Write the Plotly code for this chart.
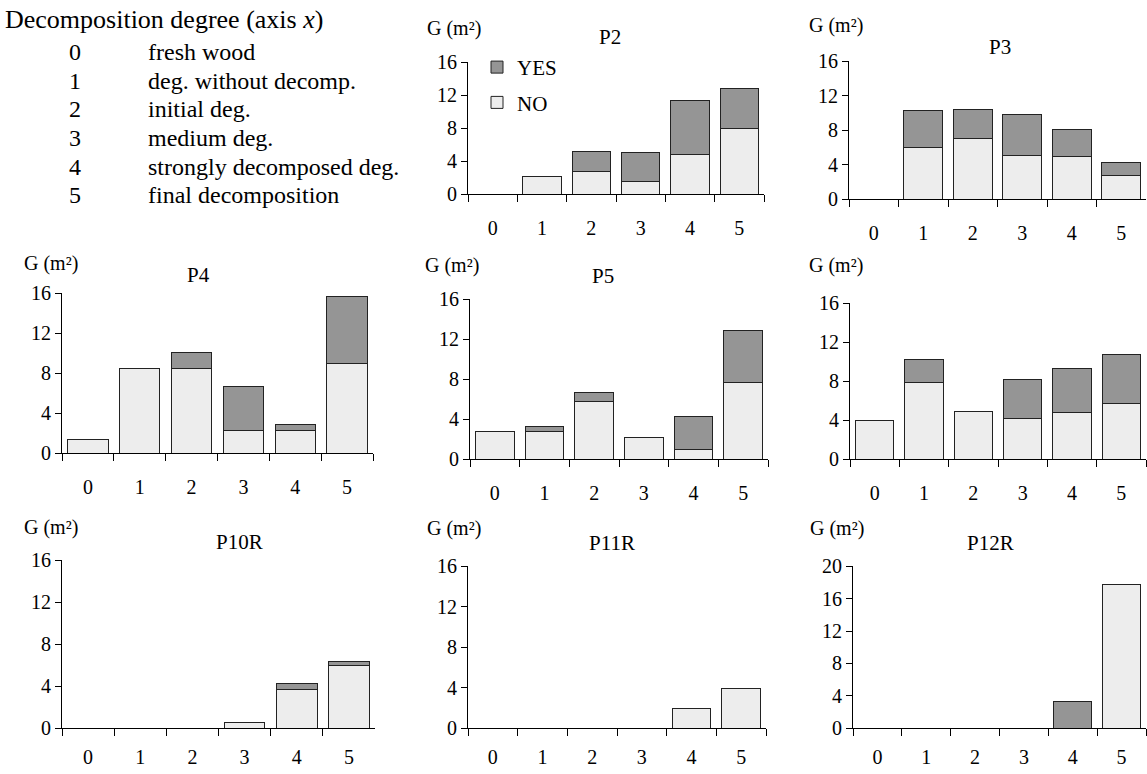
import plotly.graph_objects as go

W, H = 1147, 774

degrees = ["0", "1", "2", "3", "4", "5"]
degree_names = ["fresh wood", "deg. without decomp.", "initial deg.",
                "medium deg.", "strongly decomposed deg.", "final decomposition"]

panel_titles = ["P2", "P3", "P4", "P5", "", "P10R", "P11R", "P12R"]

p2_no = [0, 2.2, 2.7, 1.5, 4.8, 8.0]
p2_yes = [0, 0, 2.5, 3.6, 6.5, 4.85]
p3_no = [0, 6.0, 7.0, 5.1, 5.0, 2.7]
p3_yes = [0, 4.3, 3.4, 4.75, 3.1, 1.6]
p4_no = [1.35, 8.5, 8.45, 2.25, 2.25, 8.95]
p4_yes = [0, 0, 1.65, 4.45, 0.6, 6.75]
p5_no = [2.75, 2.8, 5.8, 2.15, 1.0, 7.7]
p5_yes = [0, 0.45, 0.85, 0, 3.3, 5.2]
p6_no = [3.95, 7.85, 4.9, 4.15, 4.8, 5.7]
p6_yes = [0, 2.35, 0, 4.0, 4.5, 5.05]
p10r_no = [0, 0, 0, 0.55, 3.65, 6.0]
p10r_yes = [0, 0, 0, 0, 0.65, 0.4]
p11r_no = [0, 0, 0, 0, 1.9, 3.9]
p11r_yes = [0, 0, 0, 0, 0, 0]
p12r_no = [0, 0, 0, 0, 0, 17.7]
p12r_yes = [0, 0, 0, 0, 3.3, 0]

y_max = [16, 16, 16, 16, 16, 16, 16, 20]

no_series = [p2_no, p3_no, p4_no, p5_no, p6_no, p10r_no, p11r_no, p12r_no]
yes_series = [p2_yes, p3_yes, p4_yes, p5_yes, p6_yes, p10r_yes, p11r_yes, p12r_yes]

# plot-area boxes in pixels: (x0, x1, ytop, ybottom)
boxes = [
    (468, 764, 52.7, 188.6),
    (849, 1146, 51.7, 193.7),
    (62, 373, 290.5, 455.2),
    (470, 768, 296.7, 461.4),
    (850, 1146, 300.8, 461.4),
    (62, 375, 565.3, 738.2),
    (468, 766, 571.5, 738.2),
    (853, 1146, 571.5, 738.2),
]
label_standoff = [16, 16, 16, 16, 16, 11, 11, 11]
title_pos = [(610, 27), (1000, 37.3), (198, 271.9), (603, 273), (0, 0),
             (240, 546.8), (612, 547.8), (990, 547.8)]
ylabel_pos = [(425, 17.7), (807, 14.6), (22, 259.6), (423, 261.7),
              (807, 261.7), (22, 531.3), (425, 532.4), (808, 532.4)]

FONT = "Liberation Serif, Times New Roman, serif"
NO_COLOR = "#ededed"
YES_COLOR = "#959595"

fig = go.Figure()
layout = {}
annotations = []

for i in range(8):
    n = "" if i == 0 else str(i + 1)
    xa, ya = "x" + n, "y" + n
    fig.add_trace(go.Bar(
        x=degrees, y=no_series[i], name="NO", xaxis=xa, yaxis=ya,
        marker=dict(color=NO_COLOR, line=dict(color="#222222", width=1)),
        legendgroup="no", legendrank=2, showlegend=(i == 0)))
    fig.add_trace(go.Bar(
        x=degrees, y=yes_series[i], name="YES", xaxis=xa, yaxis=ya,
        marker=dict(color=YES_COLOR, line=dict(color="#222222", width=1)),
        legendgroup="yes", legendrank=1, showlegend=(i == 0)))
    x0, x1, yt, yb = boxes[i]
    layout["xaxis" + n] = dict(
        domain=[x0 / W, x1 / W], anchor=ya, type="category",
        range=[-0.5, 5.5], showline=True, linecolor="black", linewidth=1,
        ticks="outside", tickson="boundaries", ticklen=7, tickcolor="black",
        ticklabelstandoff=label_standoff[i], showgrid=False, zeroline=False,
        tickfont=dict(family=FONT, size=20, color="black"), fixedrange=True)
    layout["yaxis" + n] = dict(
        domain=[1 - yb / H, 1 - yt / H], anchor=xa, range=[0, y_max[i]],
        dtick=4, showline=True, linecolor="black", linewidth=1,
        ticks="outside", ticklen=6, tickcolor="black", showgrid=False,
        zeroline=False, tickfont=dict(family=FONT, size=20, color="black"),
        fixedrange=True)
    if panel_titles[i]:
        tx, ty = title_pos[i]
        annotations.append(dict(
            text=panel_titles[i], x=tx / W, y=1 - ty / H, xref="paper",
            yref="paper", showarrow=False, xanchor="center", yanchor="middle",
            font=dict(family=FONT, size=21, color="black")))
    lx, ly = ylabel_pos[i]
    annotations.append(dict(
        text="G (m²)", x=lx / W, y=1 - ly / H, xref="paper",
        yref="paper", showarrow=False, xanchor="left", yanchor="middle",
        font=dict(family=FONT, size=20, color="black")))

# left explanatory block
annotations.append(dict(
    text="Decomposition degree (axis <i>x</i>)", x=3 / W, y=1 - 8.4 / H,
    xref="paper", yref="paper", showarrow=False, xanchor="left",
    yanchor="middle", font=dict(family=FONT, size=26, color="black")))
for k, (d, name) in enumerate(zip(degrees, degree_names)):
    yy = 42.4 + k * 29.44
    annotations.append(dict(
        text=d, x=75 / W, y=1 - yy / H, xref="paper", yref="paper",
        showarrow=False, xanchor="center", yanchor="middle",
        font=dict(family=FONT, size=24, color="black")))
    annotations.append(dict(
        text=name, x=146 / W, y=1 - yy / H, xref="paper", yref="paper",
        showarrow=False, xanchor="left", yanchor="middle",
        font=dict(family=FONT, size=24, color="black")))

fig.update_layout(
    width=W, height=H, margin=dict(l=0, r=0, t=0, b=0),
    paper_bgcolor="white", plot_bgcolor="white",
    font=dict(family=FONT, size=20, color="black"),
    barmode="stack", bargap=0.22,
    showlegend=True,
    legend=dict(x=477 / W, y=1 - 37 / H, xanchor="left", yanchor="top",
                traceorder="grouped", tracegroupgap=5,
                bgcolor="rgba(0,0,0,0)",
                font=dict(family=FONT, size=21, color="black")),
    annotations=annotations,
    **layout)

post = (
    "document.documentElement.style.margin='0';"
    "document.body.style.margin='0';document.body.style.padding='0';"
    "document.body.style.overflow='hidden';"
    "var d=document.getElementById('{plot_id}');"
    "d.style.position='fixed';d.style.top='0px';d.style.left='0px';"
)
fig.write_html("out.html", config={"displayModeBar": False}, post_script=post)
